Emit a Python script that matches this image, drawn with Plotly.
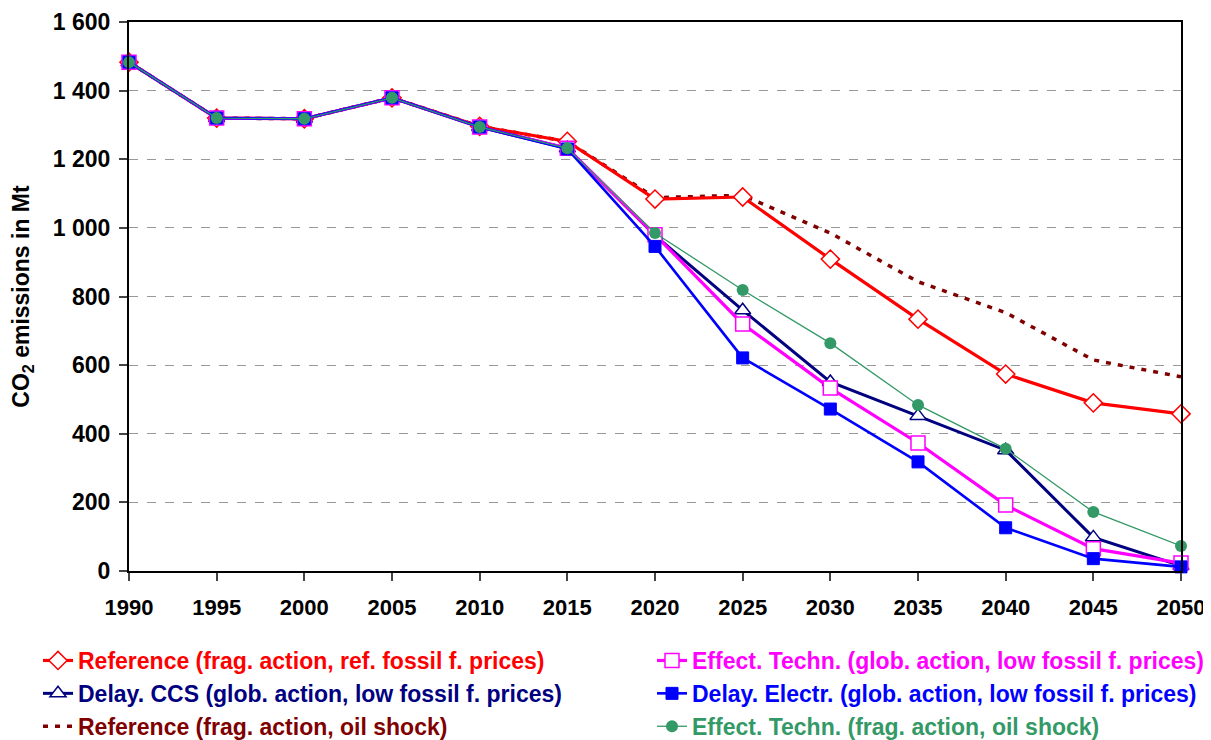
import plotly.graph_objects as go

years = [1990, 1995, 2000, 2005, 2010, 2015, 2020, 2025, 2030, 2035, 2040, 2045, 2050]

ref_frag = [1483, 1320, 1318, 1379, 1296, 1252, 1084, 1090, 909, 734, 574, 490, 458]
eff_glob = [1483, 1320, 1318, 1379, 1294, 1232, 980, 720, 533, 373, 192, 65, 23]
delay_ccs = [1483, 1320, 1318, 1379, 1294, 1232, 978, 760, 551, 452, 352, 98, 15]
delay_elec = [1483, 1320, 1318, 1379, 1294, 1230, 946, 621, 472, 318, 126, 36, 12]
ref_oil = [1483, 1320, 1318, 1379, 1296, 1252, 1088, 1095, 985, 843, 753, 615, 566]
eff_oil = [1483, 1320, 1318, 1379, 1294, 1232, 985, 819, 664, 484, 356, 172, 73]

names = [
    "Reference (frag. action, ref. fossil f. prices)",
    "Effect. Techn. (glob. action, low fossil f. prices)",
    "Delay. CCS (glob. action, low fossil f. prices)",
    "Delay. Electr. (glob. action, low fossil f. prices)",
    "Reference (frag. action, oil shock)",
    "Effect. Techn. (frag. action, oil shock)",
]

FONT = "Liberation Sans, Arial, sans-serif"
FS = 23
fig = go.Figure()

def add(y, name, color, width, symbol, msize, mfill, mline, legend, rank, dash="solid", mode="lines+markers"):
    fig.add_trace(go.Scatter(
        x=years, y=y, mode=mode, cliponaxis=False,
        name=f"<span style='color:{color}'>{name}</span>",
        line=dict(color=color, width=width, dash=dash),
        marker=dict(symbol=symbol, size=msize, color=mfill,
                    line=dict(color=color, width=mline)),
        legend=legend, legendrank=rank, legendgroup=name,
    ))

add(ref_oil, names[4], "#800000", 3.5, "circle", 1, "#800000", 0, "legend", 3, dash="5px,7px", mode="lines")
add(ref_frag, names[0], "#FF0000", 3.2, "diamond", 14, "white", 1.5, "legend", 1)
add(delay_ccs, names[2], "#000080", 3, "triangle-up", 14, "white", 1.5, "legend", 2)
add(eff_glob, names[1], "#FF00FF", 3.2, "square", 14, "white", 1.5, "legend2", 1)
add(delay_elec, names[3], "#0000FF", 2.6, "square", 12, "#0000FF", 1, "legend2", 2)
add(eff_oil, names[5], "#339966", 1.3, "circle", 12, "#339966", 0, "legend2", 3)

leg = dict(font=dict(family=FONT, size=FS, color="black", weight="bold"),
           orientation="v", traceorder="grouped", tracegroupgap=0,
           bgcolor="rgba(0,0,0,0)", yanchor="top", xanchor="left")

W, H = 1203, 732
ML, MR, MT, MB = 121, 30, 14, 169
pw = W - ML - MR
ph = H - MT - MB

fig.update_layout(
    width=W, height=H,
    margin=dict(l=ML, r=MR, t=MT, b=MB, autoexpand=False),
    paper_bgcolor="white", plot_bgcolor="white",
    separators=". ",
    font=dict(family=FONT, size=FS, color="black", weight="bold"),
    xaxis=dict(range=[1990, 2050], dtick=5, tick0=1990, showgrid=False,
               showline=True, linecolor="black", linewidth=2, mirror=True,
               ticks="outside", ticklen=8, tickcolor="#444", tickwidth=1.5,
               ticklabelstandoff=8, ticklabeloverflow="allow",
               tickfont=dict(family=FONT, size=22, weight="bold")),
    yaxis=dict(range=[0, 1600], dtick=200, tickformat=",d",
               showgrid=True, gridcolor="#999999", griddash="dash", gridwidth=1,
               showline=True, linecolor="black", linewidth=2, mirror=True,
               ticks="outside", ticklen=8, tickcolor="#444", tickwidth=1.5,
               ticklabelstandoff=4,
               tickfont=dict(family=FONT, size=FS, weight="bold"),
               title=dict(text="CO<sub>2</sub> emissions in Mt", standoff=17,
                          font=dict(family=FONT, size=FS, weight="bold"))),
    legend=dict(leg, x=(30 - ML) / pw, y=-(631 - (H - MB)) / ph),
    legend2=dict(leg, x=(644 - ML) / pw, y=-(631 - (H - MB)) / ph),
    showlegend=True,
)

fig.write_html("out.html")
